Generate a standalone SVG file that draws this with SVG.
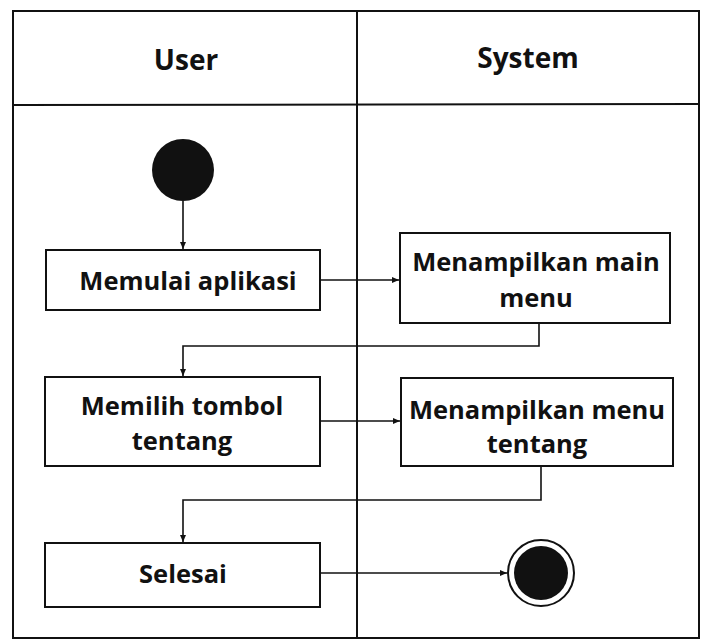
<svg xmlns="http://www.w3.org/2000/svg" width="701" height="642" viewBox="0 0 701 642">
<style>
.frame{fill:none;stroke:#111;stroke-width:2}
.box{fill:#fff;stroke:#111;stroke-width:2}
.t{font-family:"Open Sans","Noto Sans",sans-serif;font-weight:bold;font-size:25.5px;fill:#111;text-anchor:middle}
.h{font-size:28px}
.c{fill:none;stroke:#111;stroke-width:1.6}
</style>
<defs>
<marker id="arr" markerWidth="8" markerHeight="8" refX="7" refY="4" orient="auto" markerUnits="userSpaceOnUse">
<path d="M0,1 L7,4 L0,7 Z" fill="#111"/>
</marker>
</defs>
<rect width="701" height="642" fill="#fff"/>
<g id="swimlanes">
<rect class="frame" x="13" y="11" width="686" height="627"/>
<line class="frame" x1="13" y1="105" x2="699" y2="104"/>
<line class="frame" x1="357" y1="11" x2="357" y2="638"/>
<text class="t h" x="186" y="70">User</text>
<text class="t h" x="528" y="68">System</text>
</g>
<g id="connectors">
<line class="c" x1="183" y1="201" x2="183" y2="249" marker-end="url(#arr)"/>
<line class="c" x1="320" y1="280" x2="399" y2="280" marker-end="url(#arr)"/>
<polyline class="c" points="539,323 539,346 183,346 183,376" marker-end="url(#arr)"/>
<line class="c" x1="320" y1="421" x2="400" y2="421" marker-end="url(#arr)"/>
<polyline class="c" points="541,466 541,500 183,500 183,542" marker-end="url(#arr)"/>
<line class="c" x1="320" y1="573" x2="507" y2="573" marker-end="url(#arr)"/>
</g>
<g id="start">
<circle cx="183" cy="170" r="31" fill="#111"/>
</g>
<g id="memulai">
<rect class="box" x="46" y="250" width="274" height="60"/>
<text class="t" x="188" y="290">Memulai aplikasi</text>
</g>
<g id="main-menu">
<rect class="box" x="400" y="233" width="270" height="90"/>
<text class="t" x="536" y="271">Menampilkan main</text>
<text class="t" x="536" y="307">menu</text>
</g>
<g id="memilih">
<rect class="box" x="45" y="377" width="275" height="89"/>
<text class="t" x="182" y="415">Memilih tombol</text>
<text class="t" x="182" y="450">tentang</text>
</g>
<g id="menu-tentang">
<rect class="box" x="401" y="378" width="272" height="88"/>
<text class="t" x="537" y="419">Menampilkan menu</text>
<text class="t" x="537" y="453">tentang</text>
</g>
<g id="selesai">
<rect class="box" x="45" y="543" width="275" height="64"/>
<text class="t" x="183" y="583">Selesai</text>
</g>
<g id="end">
<circle cx="541" cy="573" r="33" fill="#fff" stroke="#111" stroke-width="2"/>
<circle cx="541" cy="573" r="27" fill="#111"/>
</g>
</svg>
